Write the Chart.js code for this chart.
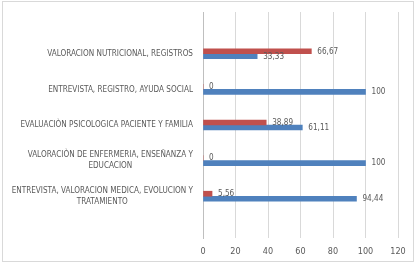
<!DOCTYPE html>
<html>
<head>
<meta charset="utf-8">
<script src="https://cdn.jsdelivr.net/npm/chart.js@4"></script>
<style>
  html, body { margin: 0; padding: 0; background: #fff; }
  #wrap { width: 416px; height: 275px; }
</style>
</head>
<body>
<div id="wrap"><canvas id="my-chart" width="416" height="275"></canvas></div>
<script>
// categories, top to bottom
const categories = [
  'VALORACION NUTRICIONAL, REGISTROS',
  'ENTREVISTA, REGISTRO, AYUDA SOCIAL',
  'EVALUACIÒN PSICOLOGICA PACIENTE Y FAMILIA',
  ['VALORACIÒN DE ENFERMERIA, ENSEÑANZA Y', 'EDUCACION'],
  ['ENTREVISTA, VALORACION MEDICA, EVOLUCION Y', 'TRATAMIENTO']
];
const redValues = [66.67, 0, 38.89, 0, 5.56];
const blueValues = [33.33, 100, 61.11, 100, 94.44];
const valueTicks = [0, 20, 40, 60, 80, 100, 120];

const textColor = '#595959';
const fontFamily = '"DejaVu Sans Condensed", "DejaVu Sans", sans-serif';
const labelFont = '9px ' + fontFamily;
const squeeze = 0.9; // narrow the text a bit, the original font is narrower

function toPoints(values) {
  return values.map((v, i) => ({ x: v, y: i }));
}

// frame round the whole chart
const framePlugin = {
  id: 'frame',
  beforeDraw(chart) {
    const c = chart.ctx;
    c.save();
    c.strokeStyle = '#d9d9d9';
    c.lineWidth = 1;
    c.strokeRect(2.5, 1.5, 411, 260);
    c.restore();
  }
};

// category labels: block right aligned, lines centred within the block
const categoryLabels = {
  id: 'categoryLabels',
  afterDraw(chart) {
    const c = chart.ctx;
    const y = chart.scales.y;
    const right = chart.chartArea.left - 10;
    c.save();
    c.font = labelFont;
    c.fillStyle = textColor;
    c.textBaseline = 'middle';
    c.textAlign = 'center';
    categories.forEach((lab, i) => {
      const lines = Array.isArray(lab) ? lab : [lab];
      const w = Math.max(...lines.map(l => c.measureText(l).width)) * squeeze;
      const cx = right - w / 2;
      const cy = y.getPixelForValue(i);
      const lh = 11;
      lines.forEach((l, j) => {
        const lw = c.measureText(l).width * squeeze;
        c.fillText(l, cx, cy + (j - (lines.length - 1) / 2) * lh, lw);
      });
    });
    c.restore();
  }
};

// value labels right of each bar
const valueLabels = {
  id: 'valueLabels',
  afterDatasetsDraw(chart) {
    const c = chart.ctx;
    c.save();
    c.font = labelFont;
    c.fillStyle = textColor;
    c.textBaseline = 'middle';
    c.textAlign = 'left';
    chart.data.datasets.forEach((ds, di) => {
      chart.getDatasetMeta(di).data.forEach((bar, i) => {
        const t = String(ds.data[i].x).replace('.', ',');
        c.fillText(t, bar.x + 6, bar.y, c.measureText(t).width * squeeze);
      });
    });
    c.restore();
  }
};

const ctx = document.getElementById('my-chart');
const myChart = new Chart(ctx, {
  type: 'bar',
  data: {
    datasets: [
      {
        label: 'Serie 2',
        data: toPoints(redValues),
        backgroundColor: '#c0504d',
        barThickness: 5
      },
      {
        label: 'Serie 1',
        data: toPoints(blueValues),
        backgroundColor: '#4f81bd',
        barThickness: 5
      }
    ]
  },
  options: {
    indexAxis: 'y',
    responsive: false,
    animation: false,
    layout: { padding: { top: 12, right: 18, left: 0, bottom: 0 } },
    plugins: {
      legend: { display: false },
      tooltip: { enabled: false }
    },
    scales: {
      x: {
        type: 'linear',
        min: 0,
        max: 120,
        afterBuildTicks(scale) {
          scale.ticks = valueTicks.map(v => ({ value: v }));
        },
        grid: { color: '#d9d9d9', drawTicks: false },
        border: { display: false },
        ticks: {
          color: textColor,
          font: { family: fontFamily, size: 9 },
          padding: 8
        },
        afterFit(scale) { scale.height = 37; }
      },
      y: {
        type: 'linear',
        min: -0.72,
        max: 4.72,
        reverse: true,
        grid: { display: false },
        border: { display: true, color: '#bfbfbf' },
        ticks: { display: false },
        afterFit(scale) { scale.width = 203; }
      }
    }
  },
  plugins: [framePlugin, categoryLabels, valueLabels]
});
</script>
</body>
</html>
